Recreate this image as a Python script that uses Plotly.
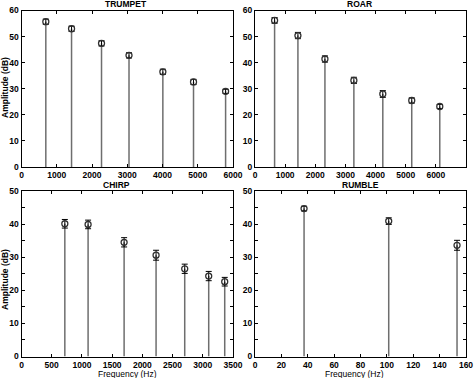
import plotly.graph_objects as go

# ---- data ----
trumpet_f = [690, 1420, 2270, 3050, 4010, 4880, 5790]
trumpet_a = [55.7, 53.0, 47.4, 42.8, 36.5, 32.6, 29.0]
trumpet_e = [1.0, 1.0, 1.0, 1.0, 1.0, 1.0, 0.8]

roar_f = [650, 1424, 2320, 3280, 4240, 5200, 6130]
roar_a = [56.2, 50.4, 41.4, 33.2, 28.0, 25.5, 23.2]
roar_e = [1.1, 1.2, 1.2, 1.2, 1.3, 1.0, 0.8]

chirp_f = [717, 1102, 1698, 2227, 2701, 3098, 3363]
chirp_a = [40.1, 39.9, 34.5, 30.6, 26.5, 24.3, 22.6]
chirp_e = [1.3, 1.3, 1.4, 1.5, 1.4, 1.4, 1.3]

rumble_f = [37.2, 101.4, 153.2]
rumble_a = [44.7, 40.9, 33.6]
rumble_e = [0.7, 1.0, 1.5]

panels = [
    ("TRUMPET", trumpet_f, trumpet_a, trumpet_e, [0, 6000], 1000, [0, 60], 10, None),
    ("ROAR", roar_f, roar_a, roar_e, [0, 7000], 1000, [0, 60], 10, None),
    ("CHIRP", chirp_f, chirp_a, chirp_e, [0, 3500], 500, [0, 50], 10, 5),
    ("RUMBLE", rumble_f, rumble_a, rumble_e, [0, 160], 20, [0, 50], 10, 5),
]

W, H = 474, 378
# plot areas in pixels: (left, right, top, bottom)
boxes = [(21.5, 233, 10.5, 167), (255, 466, 10.5, 167),
         (21.5, 233, 191, 356.5), (255, 466, 191, 356.5)]
title_x = [126, 359, 116, 360]

fig = go.Figure()
tickfont = dict(family="Liberation Sans, Arial", size=8.5, color="black", weight="bold")

for i, (name, f, a, e, xr, xd, yr, yd, ymin) in enumerate(panels):
    n = i + 1
    xa = "x" if n == 1 else f"x{n}"
    ya = "y" if n == 1 else f"y{n}"
    sx, sy = [], []
    for fi, ai in zip(f, a):
        sx += [fi, fi, None]
        sy += [0, ai, None]
    fig.add_trace(go.Scatter(x=sx, y=sy, mode="lines", xaxis=xa, yaxis=ya,
                             line=dict(color="#6e6e6e", width=1.5), showlegend=False,
                             hoverinfo="skip"))
    fig.add_trace(go.Scatter(x=f, y=a, mode="markers", xaxis=xa, yaxis=ya,
                             marker=dict(symbol="circle-open", size=6, color="#303030",
                                         line=dict(width=1.3)),
                             error_y=dict(type="data", array=e, color="black",
                                          thickness=1, width=3),
                             showlegend=False))
    l, r, t, b = boxes[i]
    common = dict(showline=True, linecolor="black", linewidth=1, mirror="ticks",
                  ticks="inside", ticklen=3, tickcolor="black", showgrid=False,
                  zeroline=False, tickfont=tickfont, automargin=False)
    xkey = "xaxis" if n == 1 else f"xaxis{n}"
    ykey = "yaxis" if n == 1 else f"yaxis{n}"
    fig.update_layout({
        xkey: dict(domain=[l / W, r / W], range=xr, dtick=xd, tick0=0,
                   anchor=ya, **common),
        ykey: dict(domain=[1 - b / H, 1 - t / H], range=yr, dtick=yd, tick0=0,
                   anchor=xa, **common,
                   **({"minor": dict(dtick=ymin, ticks="inside", ticklen=3,
                                     tickcolor="black")} if ymin else {})),
    })
    fig.add_annotation(text=name, x=title_x[i] / W, y=1 - (t - 6.5) / H,
                       xref="paper", yref="paper", showarrow=False,
                       font=dict(family="Liberation Sans, Arial", size=8.5,
                                 color="black", weight="bold"),
                       xanchor="center", yanchor="middle")

lab = dict(family="Liberation Sans, Arial", size=8.5, color="black", weight="bold")
fig.add_annotation(text="Amplitude (dB)", x=5 / W, y=1 - 88 / H, xref="paper", yref="paper",
                   showarrow=False, textangle=-90, font=lab, xanchor="center", yanchor="middle")
fig.add_annotation(text="Amplitude (dB)", x=5 / W, y=1 - 280 / H, xref="paper", yref="paper",
                   showarrow=False, textangle=-90, font=lab, xanchor="center", yanchor="middle")
labf = dict(family="Liberation Sans, Arial", size=8.5, color="black")
fig.add_annotation(text="Frequency (Hz)", x=127 / W, y=1 - 373.5 / H, xref="paper", yref="paper",
                   showarrow=False, font=labf, xanchor="center", yanchor="middle")
fig.add_annotation(text="Frequency (Hz)", x=354 / W, y=1 - 373.5 / H, xref="paper", yref="paper",
                   showarrow=False, font=labf, xanchor="center", yanchor="middle")

fig.update_layout(width=W, height=H, margin=dict(l=0, r=0, t=0, b=0),
                  paper_bgcolor="white", plot_bgcolor="white")
fig.write_html("out.html", config={"displayModeBar": False},
               post_script="document.body.style.margin='0';document.body.style.overflow='hidden';")
